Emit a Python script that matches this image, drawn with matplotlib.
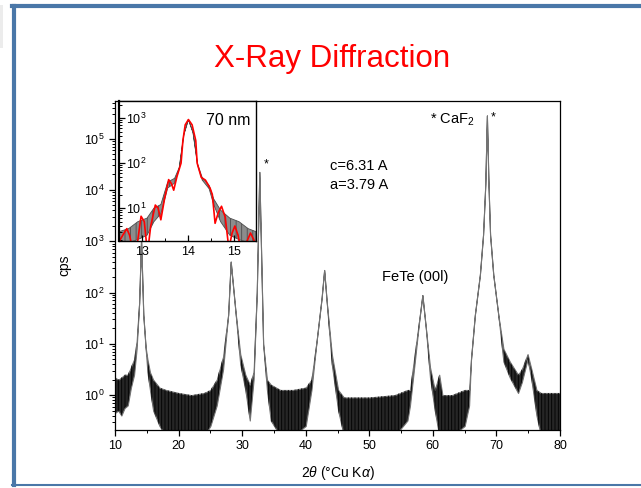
import numpy as np
import matplotlib
matplotlib.use('Agg')
from matplotlib import pyplot as plt
from matplotlib.lines import Line2D
from matplotlib.patches import Rectangle
from matplotlib.ticker import LogLocator, MultipleLocator, NullFormatter

plt.rcParams['font.family'] = ['Liberation Sans', 'DejaVu Sans']
plt.rcParams['mathtext.fontset'] = 'custom'
plt.rcParams['mathtext.rm'] = 'Liberation Sans'
plt.rcParams['mathtext.it'] = 'Liberation Sans:italic'
plt.rcParams['mathtext.bf'] = 'Liberation Sans:bold'
plt.rcParams['hatch.linewidth'] = 0.6

# main scan: 2theta, lower / upper edge of the noisy trace (cps)
two_theta = [10.0, 10.5, 11.0, 11.5, 12.0, 12.5, 13.0, 13.4, 13.8, 14.1, 14.45, 14.8,
             15.1, 15.5, 16.0, 17.0, 18.0, 20.0, 22.0, 24.0, 25.0, 26.0, 27.0, 27.8,
             28.2, 28.9, 29.7, 30.5, 31.2, 31.8, 32.3, 32.7, 33.3, 33.9, 34.5, 36.0,
             38.0, 40.0, 40.9, 41.7, 42.5, 42.9, 43.3, 44.1, 45.1, 46.0, 50.0, 54.0,
             56.0, 56.4, 57.2, 57.9, 58.35, 58.9, 59.55, 60.3, 61.0, 61.5, 63.0, 65.0,
             65.7, 66.0, 66.6, 67.4, 67.9, 68.25, 68.5, 68.75, 69.0, 69.5, 70.3, 71.1,
             72.1, 73.4, 74.0, 74.9, 75.5, 76.3, 77.0, 80.0]
cps_lo = [0.45, 0.5, 0.4, 0.56, 0.63, 1.4, 2.5, 8.0, 63, 1100, 37, 8.9,
          2.8, 1.26, 0.5, 0.25, 0.16, 0.16, 0.16, 0.16, 0.25, 0.63, 3.2, 37,
          400, 49, 4.0, 1.26, 0.32, 2.0, 100, 22400, 10, 1.26, 0.32, 0.16,
          0.16, 0.25, 1.26, 11, 78, 275, 66, 4.0, 0.5, 0.16, 0.16, 0.16,
          0.32, 0.63, 5.0, 32, 89, 20, 2.2, 0.5, 0.16, 0.16, 0.16, 0.25,
          0.63, 5.0, 36, 224, 1350, 12900, 282000, 12900, 1350, 224, 36, 4.5,
          2.2, 1.1, 1.8, 5.0, 2.0, 0.4, 0.16, 0.16]
cps_hi = [2.2, 2.0, 2.2, 2.5, 2.5, 3.5, 5.0, 11, 63, 1100, 37, 8.9,
          5.0, 2.8, 2.0, 1.4, 1.26, 1.1, 1.0, 1.1, 1.26, 2.0, 5.6, 37,
          400, 49, 6.3, 2.5, 1.6, 2.8, 100, 22400, 10, 2.0, 1.6, 1.26,
          1.26, 1.4, 2.0, 11, 78, 275, 66, 6.3, 1.26, 0.9, 0.9, 1.0,
          1.26, 1.26, 7.1, 32, 89, 20, 3.5, 1.26, 2.5, 1.0, 1.0, 1.26,
          1.26, 5.0, 36, 224, 1350, 12900, 282000, 12900, 1350, 224, 36, 8.0,
          4.5, 2.5, 3.2, 6.3, 3.2, 1.26, 1.1, 1.1]
main_yticks = [1, 10, 100, 1e3, 1e4, 1e5]

# inset: (001) peak with thickness fringes
ins_theta = [12.49, 12.7, 12.9, 13.1, 13.25, 13.4, 13.55, 13.7, 13.8, 13.9, 14.0,
             14.1, 14.2, 14.3, 14.45, 14.55, 14.7, 14.9, 15.1, 15.3, 15.47]
ins_lo = [1.6, 1.7, 2.0, 2.5, 5.0, 7.5, 28, 36, 75, 420, 920,
          470, 90, 42, 27, 12, 5.0, 2.5, 2.0, 1.7, 1.6]
ins_hi = [3.0, 3.5, 5.0, 6.0, 10, 12, 38, 46, 80, 440, 940,
          490, 95, 48, 32, 16, 9, 6, 5, 3.5, 3.0]

fit_theta = [12.49, 12.60, 12.66, 12.72, 12.80, 12.88, 12.97, 13.04, 13.11, 13.18, 13.28,
             13.34, 13.40, 13.48, 13.57, 13.63, 13.68, 13.75, 13.84, 13.88, 13.93, 14.0,
             14.08, 14.16, 14.19, 14.28, 14.37, 14.47, 14.52, 14.58, 14.65, 14.72, 14.8,
             14.88, 14.95, 15.01, 15.08, 15.15, 15.25, 15.35, 15.42, 15.48]
fit_cps = [1.8, 2.8, 3.5, 2.5, 1.0, 1.4, 6.6, 5.0, 1.0, 4.0, 11.7,
           10, 5.5, 16, 43, 35, 25, 50, 100, 316, 710, 930,
           710, 316, 100, 48, 42, 28, 20, 4.6, 8, 11, 6.3,
           1.26, 2.8, 4.0, 2.5, 1.0, 1.6, 2.8, 2.0, 1.26]
ins_xticks = [13, 14, 15]
ins_yticks = [10, 100, 1000]

fig = plt.figure(figsize=(6.41, 4.88), dpi=100)

# slide frame
fig.add_artist(Rectangle((0, 1 - 48 / 488), 3 / 641, 43 / 488, transform=fig.transFigure,
                         facecolor='#ececec', edgecolor='none'))
frame_c = '#4a77a8'
fig.add_artist(Line2D([13.5 / 641, 13.5 / 641], [1 - 5.5 / 488, 1 - 485 / 488],
                      transform=fig.transFigure, color=frame_c, lw=3))
fig.add_artist(Line2D([12 / 641, 1], [1 - 5.5 / 488, 1 - 5.5 / 488],
                      transform=fig.transFigure, color=frame_c, lw=3))
fig.add_artist(Line2D([12 / 641, 1], [1 - 485 / 488, 1 - 485 / 488],
                      transform=fig.transFigure, color=frame_c, lw=1.5))

fig.text(332.5 / 641, 1 - 66.7 / 488, 'X-Ray Diffraction', color='red', ha='center',
         va='baseline', fontsize=22.5)

ax = fig.add_axes([115 / 641, 58 / 488, 445 / 641, 329 / 488])
ax.fill_between(two_theta, cps_lo, cps_hi, facecolor='0.15', edgecolor='0.45', lw=0.8)
ax.fill_between(two_theta, cps_lo, cps_hi, facecolor='none', edgecolor='black', lw=0,
                hatch='|||||')
ax.set_yscale('log')
ax.set_xlim(10, 80)
ax.set_ylim(0.209, 5.4e5)
ax.xaxis.set_major_locator(MultipleLocator(10))
ax.xaxis.set_minor_locator(MultipleLocator(5))
ax.set_yticks(main_yticks)
ax.yaxis.set_minor_locator(LogLocator(base=10, subs=np.arange(2, 10), numticks=12))
ax.yaxis.set_minor_formatter(NullFormatter())
ax.tick_params(which='major', direction='out', length=4, labelsize=9, width=0.9)
ax.tick_params(which='minor', direction='out', length=2.5, width=0.7)
for s in ax.spines.values():
    s.set_linewidth(0.9)
ax.set_ylabel('cps', fontsize=10, labelpad=9)
ax.set_xlabel(r'2$\theta$ ($\degree$Cu K$\alpha$)', fontsize=10, labelpad=8)

ax.text(330 / 641, 1 - 166 / 488, 'c=6.31 A', transform=fig.transFigure, fontsize=10.5, va='center')
ax.text(330 / 641, 1 - 185 / 488, 'a=3.79 A', transform=fig.transFigure, fontsize=10.5, va='center')
ax.text(415 / 641, 1 - 277 / 488, 'FeTe (00l)', transform=fig.transFigure, fontsize=10.5,
        ha='center', va='center')
ax.text(430 / 641, 1 - 120 / 488, r'* CaF$_2$', transform=fig.transFigure, fontsize=10.5,
        va='center')
ax.text(493 / 641, 1 - 117 / 488, '*', transform=fig.transFigure, fontsize=9, ha='center',
        va='center')
ax.text(266 / 641, 1 - 164 / 488, '*', transform=fig.transFigure, fontsize=9, ha='center',
        va='center')

# inset
axi = fig.add_axes([119 / 641, 247 / 488, 137 / 641, 140 / 488])
axi.fill_between(ins_theta, ins_lo, ins_hi, facecolor='0.55', edgecolor='0.3', lw=0.6,
                 hatch='|||')
axi.plot(fit_theta, fit_cps, color='red', lw=1.2)
axi.set_yscale('log')
axi.set_xlim(12.49, 15.47)
axi.set_ylim(1.86, 2400)
axi.set_xticks(ins_xticks)
axi.xaxis.set_minor_locator(MultipleLocator(0.5))
axi.set_yticks(ins_yticks)
axi.yaxis.set_minor_locator(LogLocator(base=10, subs=np.arange(2, 10), numticks=6))
axi.yaxis.set_minor_formatter(NullFormatter())
axi.tick_params(which='major', direction='in', length=4, labelsize=9, width=0.9)
axi.tick_params(which='minor', direction='in', length=2.5, width=0.7)
axi.tick_params(axis='y', which='major', pad=-5)
for lab in axi.get_yticklabels():
    lab.set_horizontalalignment('left')
for s in axi.spines.values():
    s.set_linewidth(1.0)
axi.spines['left'].set_linewidth(1.6)
axi.text(0.96, 0.86, '70 nm', transform=axi.transAxes, ha='right', va='center', fontsize=11.5)

plt.savefig('out.png', dpi=100)
